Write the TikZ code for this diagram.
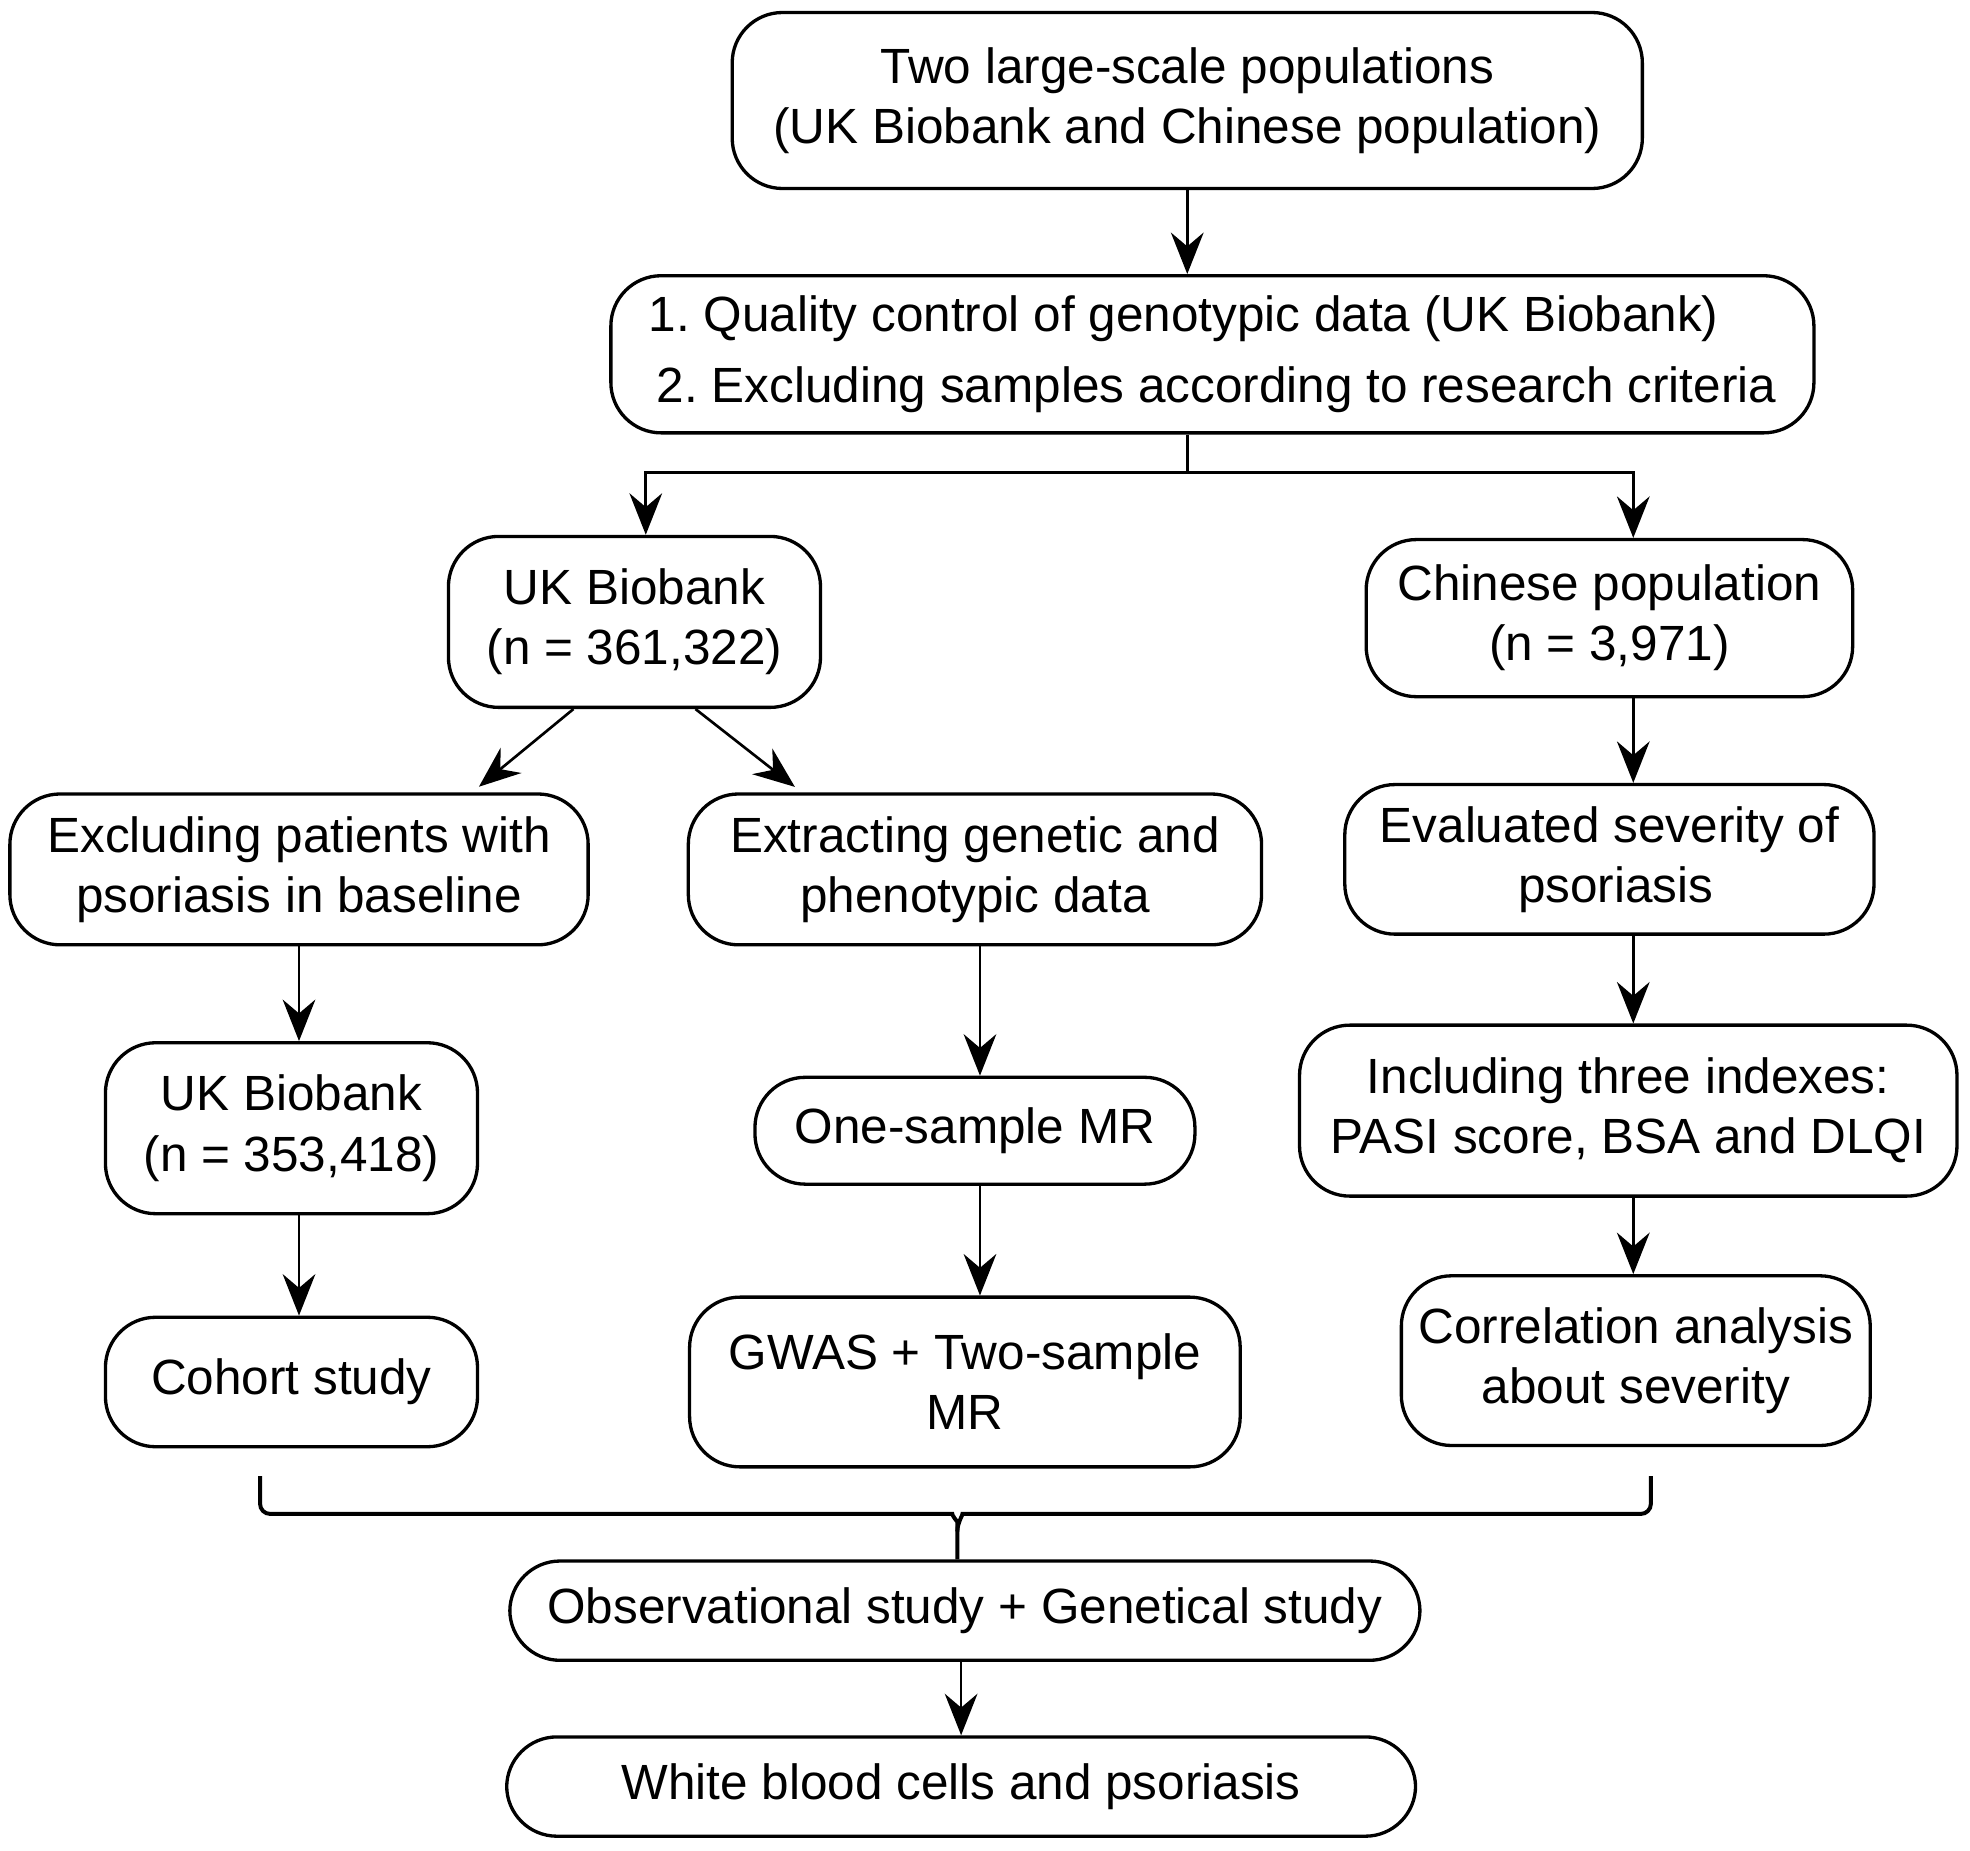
\documentclass[tikz,border=0pt]{standalone}
\usepackage{fontspec}
\setmainfont{Liberation Sans}
\usetikzlibrary{arrows.meta}
\frenchspacing

\tikzset{
  box/.style={draw, line width=0.75pt, rounded corners=0.4cm, align=center, inner sep=0pt,
    font=\fontsize{11.2}{13.6}\selectfont},
  arr/.style={-{Stealth[length=3.3mm,width=2.6mm,inset=1.1mm]}, line width=0.6pt},
}

\begin{document}
\begin{tikzpicture}[x=0.01cm,y=-0.01cm]

\useasboundingbox (0,0) rectangle (1568,1473);

% top of the chart
\node[box, minimum width=7.24cm, minimum height=1.40cm] at (945,80) (top)
  {Two large-scale populations\\(UK Biobank and Chinese population)};
\node[box, minimum width=9.57cm, minimum height=1.25cm, align=left,
  font=\fontsize{11.2}{15.9}\selectfont] at (965,282) (qc)
  {1. Quality control of genotypic data (UK Biobank)\\
   \,2. Excluding samples according to research criteria};

% two populations
\node[box, minimum width=2.96cm, minimum height=1.36cm] at (505,495) (ukb)
  {UK Biobank\\(n = 361,322)};
\node[box, minimum width=3.87cm, minimum height=1.25cm] at (1281,492) (cn)
  {Chinese population\\(n = 3,971)};

% UK Biobank branch
\node[box, minimum width=4.60cm, minimum height=1.20cm] at (238,692) (excl)
  {Excluding patients with\\psoriasis in baseline};
\node[box, minimum width=2.96cm, minimum height=1.36cm] at (232,898) (ukbb)
  {UK Biobank\\(n = 353,418)};
\node[box, minimum width=2.96cm, minimum height=1.03cm] at (232,1100) (coh)
  {Cohort study};

\node[box, minimum width=4.56cm, minimum height=1.20cm] at (776,692) (extr)
  {Extracting genetic and\\phenotypic data};
\node[box, minimum width=3.50cm, minimum height=0.85cm] at (776,900) (one)
  {One-sample MR};
\node[box, minimum width=4.38cm, minimum height=1.35cm] at (768,1100) (gwas)
  {GWAS + Two-sample\\MR};

% Chinese branch
\node[box, minimum width=4.21cm, minimum height=1.19cm] at (1281,684) (eval)
  {Evaluated severity of\\\hspace{0.1cm}psoriasis};
\node[box, minimum width=5.23cm, minimum height=1.36cm] at (1296,884) (incl)
  {Including three indexes:\\PASI score, BSA and DLQI};
\node[box, minimum width=3.73cm, minimum height=1.35cm] at (1302,1083) (corr)
  {Correlation analysis\\about severity};

% bottom
\node[box, minimum width=7.24cm, minimum height=0.79cm] at (768,1282) (obs)
  {Observational study + Genetical study};
\node[box, minimum width=7.23cm, minimum height=0.79cm] at (765,1422) (wbc)
  {White blood cells and psoriasis};

% columns of arrows
\coordinate (colL) at (238,0);
\coordinate (colM) at (780,0);
\coordinate (colR) at (1300,0);

\draw[arr] (top.south) -- (top.south |- qc.north);
\draw[line width=0.6pt] (qc.south -| top.south) -- ++(0,30) coordinate (fork);
\draw[arr] (fork) -| ([xshift=0.09cm]ukb.north);
\draw[arr] (fork) -| (colR |- cn.north);

\draw[arr, shorten >=0.07cm] (ukb.235) -- (excl.24);
\draw[arr, shorten >=0.07cm] (ukb.305) -- (extr.156);

\draw[arr] (excl.south -| colL) -- (ukbb.north -| colL);
\draw[arr] (ukbb.south -| colL) -- (coh.north -| colL);
\draw[arr] (extr.south -| colM) -- (one.north -| colM);
\draw[arr] (one.south -| colM) -- (gwas.north -| colM);
\draw[arr] (cn.south -| colR) -- (eval.north -| colR);
\draw[arr] (eval.south -| colR) -- (incl.north -| colR);
\draw[arr] (incl.south -| colR) -- (corr.north -| colR);

% brace over the three studies
\coordinate (brl) at (207,1175);
\coordinate (brr) at (1314,1175);
\coordinate (brm) at (762,1205);
\draw[line width=0.9pt, rounded corners=0.08cm] (brl) -- (brl |- brm) -- ([xshift=-0.12cm]brm)
  to[out=0,in=90] ([yshift=-0.14cm]brm) -- (brm |- obs.north);
\draw[line width=0.9pt, rounded corners=0.08cm] (brr) -- (brr |- brm) -- ([xshift=0.12cm]brm)
  to[out=180,in=90] ([yshift=-0.14cm]brm);

\draw[arr] (obs.south -| wbc.north) -- (wbc.north);

\end{tikzpicture}
\end{document}
